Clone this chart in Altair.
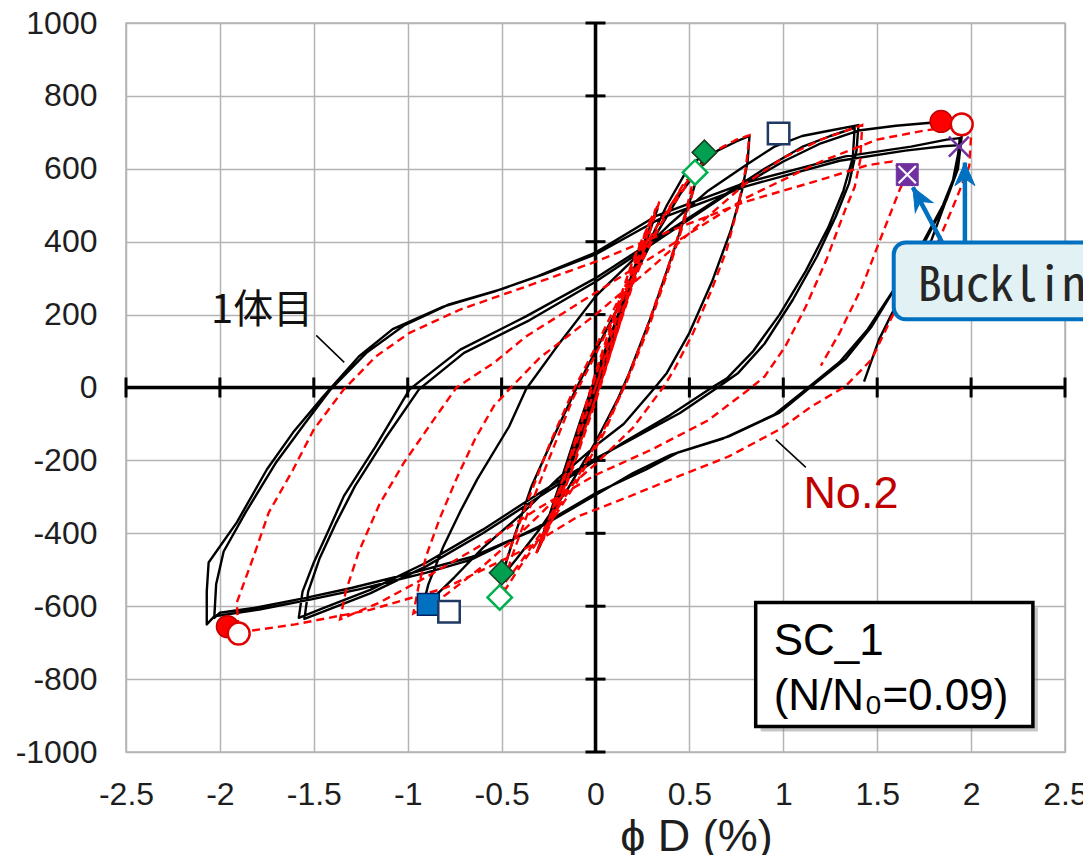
import altair as alt
import pandas as pd

# ---------------- data ----------------
X_TICKS = [-2.5, -2, -1.5, -1, -0.5, 0, 0.5, 1, 1.5, 2, 2.5]
Y_TICKS = [-1000, -800, -600, -400, -200, 0, 200, 400, 600, 800, 1000]

# specimen 1 (1体目), black solid, path in load order
BLACK_X = [0, 0.1, 0.2, 0.32, 0.25, 0.12, 0, -0.12, -0.22, -0.3,
           -0.22, -0.1, 0, 0.12, 0.22, 0.33, 0.25, 0.12, 0, -0.12, -0.22, -0.31,
           -0.2, -0.08, 0, 0.12, 0.25, 0.38, 0.48, 0.58,
           0.52, 0.42, 0.3, 0.18, 0.12, 0, -0.15, -0.3, -0.42, -0.5,
           -0.44, -0.34, -0.2, -0.1, 0, 0.15, 0.3, 0.45, 0.55, 0.65, 0.75, 0.82,
           0.81, 0.78, 0.72, 0.62, 0.5, 0.38, 0.3, 0.15, 0, -0.2, -0.4, -0.6, -0.75, -0.85, -0.92,
           -0.89, -0.81, -0.72, -0.63, -0.46, -0.37, -0.19, 0, 0.2, 0.4, 0.6, 0.8, 0.95, 1.1, 1.25, 1.4,
           1.39, 1.35, 1.28, 1.18, 1.05, 0.9, 0.76, 0.65, 0.45, 0.2, 0, -0.3, -0.6, -0.9, -1.2, -1.45, -1.58,
           -1.56, -1.5, -1.42, -1.34, -1.17, -0.99, -0.72, -0.37, 0, 0.3, 0.6, 0.9, 1.1, 1.25, 1.38,
           1.37, 1.32, 1.24, 1.12, 0.98, 0.84, 0.7, 0.62, 0.4, 0.15, 0, -0.3, -0.6, -0.9, -1.2, -1.45, -1.55,
           -1.53, -1.47, -1.38, -1.28, -1.12, -0.94, -0.7, -0.35, 0, 0.35, 0.7, 1.0, 1.2, 1.4, 1.6, 1.8, 1.9, 1.95,
           1.93, 1.87, 1.76, 1.6, 1.47, 1.33, 1.15, 0.98, 0.71, 0.44, 0.27, 0, -0.3, -0.66, -0.9, -1.26, -1.52, -1.79, -2.03, -2.07,
           -2.07, -2.06, -1.91, -1.75, -1.61, -1.45, -1.26, -1.08, -0.81, -0.54, -0.31, 0, 0.32, 0.8, 1.33, 1.68, 1.87, 1.94,
           1.92, 1.85, 1.74, 1.59, 1.45, 1.3, 1.12, 0.95, 0.68, 0.4, 0.2, 0, -0.3, -0.66, -0.95, -1.3, -1.55, -1.82, -2.0, -2.03,
           -2.02, -1.98, -1.86, -1.7, -1.55, -1.41, -1.22, -1.02, -0.78, -0.5, -0.28, 0, 0.35, 0.8, 1.3, 1.65, 1.85, 1.94,
           1.9, 1.79, 1.65, 1.51, 1.43]
BLACK_Y = [0, 160, 320, 480, 380, 180, 0, -180, -330, -440,
           -320, -140, 10, 190, 340, 490, 370, 170, -20, -200, -340, -450,
           -280, -90, 30, 200, 360, 500, 590, 645,
           540, 380, 200, 40, -30, -150, -280, -390, -470, -520,
           -420, -270, -110, 0, 100, 250, 400, 530, 600, 650, 675, 690,
           620, 540, 430, 290, 150, 40, -10, -100, -160, -250, -350, -440, -520, -570, -600,
           -540, -436, -340, -252, -107, -5, 123, 250, 350, 450, 540, 610, 660, 690, 705, 720,
           650, 560, 470, 360, 240, 120, 40, 0, -70, -140, -195, -290, -390, -480, -555, -605, -632,
           -560, -480, -390, -298, -161, -5, 104, 195, 300, 400, 500, 600, 660, 690, 712,
           630, 540, 440, 320, 200, 100, 25, 0, -75, -150, -200, -300, -400, -490, -565, -615, -635,
           -560, -470, -370, -270, -140, -5, 95, 185, 290, 410, 530, 620, 670, 705, 718, 727, 712, 690,
           600, 516, 406, 277, 167, 77, 3, -69, -134, -178, -225, -290, -381, -472, -508, -554, -582, -609, -628, -650,
           -560, -480, -370, -225, -123, -25, 85, 160, 222, 263, 305, 370, 470, 562, 634, 661, 680, 684,
           590, 500, 395, 270, 160, 70, -5, -75, -140, -185, -235, -295, -385, -465, -505, -550, -578, -605, -618, -632,
           -540, -450, -340, -205, -100, -5, 95, 170, 228, 270, 310, 365, 465, 552, 622, 650, 662, 665,
           560, 406, 277, 132, 16]

# specimen No.2, red dashed
RED_X = [0, 0.1, 0.2, 0.3, 0.22, 0.1, 0, -0.1, -0.2, -0.28,
         -0.2, -0.1, 0, 0.1, 0.2, 0.32, 0.24, 0.12, 0, -0.12, -0.22, -0.3,
         -0.22, -0.1, 0, 0.1, 0.22, 0.34, 0.26, 0.14, 0.02, -0.1, -0.2, -0.32,
         -0.22, -0.1, 0, 0.12, 0.25, 0.38, 0.47, 0.53,
         0.48, 0.38, 0.25, 0.15, 0.05, -0.1, -0.25, -0.4, -0.5,
         -0.45, -0.35, -0.22, -0.12, 0, 0.15, 0.3, 0.45, 0.55,
         0.5, 0.4, 0.28, 0.17, 0.05, -0.1, -0.25, -0.4, -0.52,
         -0.46, -0.36, -0.24, -0.12, 0, 0.15, 0.3, 0.45, 0.56, 0.66, 0.75, 0.82,
         0.8, 0.76, 0.7, 0.62, 0.52, 0.42, 0.36, 0.2, 0, -0.2, -0.4, -0.6, -0.8, -0.97,
         -0.94, -0.9, -0.83, -0.74, -0.64, -0.54, -0.45, -0.3, 0, 0.3, 0.6, 0.8, 1.0, 1.2, 1.42,
         1.41, 1.38, 1.33, 1.23, 1.12, 1.01, 0.9, 0.83, 0.6, 0.3, 0, -0.3, -0.6, -0.9, -1.15, -1.36,
         -1.33, -1.26, -1.15, -1.02, -0.85, -0.74, -0.54, -0.37, 0, 0.4, 0.8, 1.2, 1.5, 1.75, 1.97,
         2.0, 1.99, 1.92, 1.83, 1.68, 1.58, 1.47, 1.33, 1.15, 0.98, 0.71, 0.44, 0.18, -0.09, -0.4, -0.8, -1.2, -1.6, -1.9,
         -1.91, -1.82, -1.74, -1.61, -1.5, -1.34, -1.17, -0.99, -0.72, -0.37, 0, 0.4, 0.8, 1.2, 1.45, 1.58, 1.66,
         1.62, 1.51, 1.42, 1.3, 1.2]
RED_Y = [0, 170, 330, 470, 340, 140, -30, -190, -330, -420,
         -300, -130, 40, 200, 350, 490, 360, 160, -40, -220, -350, -440,
         -320, -140, 30, 190, 370, 510, 380, 190, 0, -180, -320, -460,
         -330, -150, 0, 180, 350, 480, 560, 590,
         480, 320, 130, 0, -120, -260, -380, -490, -570,
         -470, -330, -160, -30, 90, 250, 410, 530, 600,
         500, 340, 160, 20, -110, -250, -370, -480, -560,
         -450, -310, -150, -10, 110, 270, 420, 540, 610, 655, 680, 692,
         600, 500, 380, 270, 150, 50, 0, -110, -210, -300, -400, -490, -570, -620,
         -540, -460, -360, -250, -140, -50, 0, 80, 200, 330, 470, 560, 630, 680, 720,
         625, 550, 488, 351, 222, 112, 30, 0, -90, -170, -240, -330, -430, -520, -590, -636,
         -560, -450, -320, -206, -80, 0, 68, 140, 260, 390, 520, 620, 680, 705, 720,
         690, 607, 516, 406, 288, 195, 77, 3, -52, -115, -189, -244, -299, -353, -450, -550, -610, -650, -672,
         -590, -463, -343, -225, -115, -5, 85, 150, 214, 277, 345, 430, 510, 570, 610, 620, 584,
         543, 398, 277, 150, 60]

# markers
RED_FILLED_X, RED_FILLED_Y = [1.84, -1.96], [730, -656]
RED_OPEN_X, RED_OPEN_Y = [1.95, -1.9], [722, -675]
BLUE_FILLED_X, BLUE_FILLED_Y = [-0.89], [-595]
NAVY_OPEN_X, NAVY_OPEN_Y = [-0.78, 0.975], [-615, 697]
GREEN_FILLED_X, GREEN_FILLED_Y = [0.58, -0.5], [645, -508]
GREEN_OPEN_X, GREEN_OPEN_Y = [0.53, -0.51], [590, -576]
PURPLE_SQ_X, PURPLE_SQ_Y = [1.66], [584]
PURPLE_X_X, PURPLE_X_Y = [1.935], [661]

# annotations
LABEL_1 = "1体目"
LABEL_2 = "No.2"
BOX_LINES = ["SC_1", "(N/N₀=0.09)"]
BUCKLING = "Buckling"

# ---------------- helpers ----------------
xs = alt.Scale(domain=[-2.5, 2.5], nice=False, zero=False)
ys = alt.Scale(domain=[-1000, 1000], nice=False, zero=False)

FONT = "Liberation Sans, Arial, sans-serif"
AX_X = alt.Axis(values=X_TICKS, grid=True, gridColor="#b4b4b4", gridWidth=1.5,
                domain=False, ticks=False, tickSize=0, labelFontSize=32, labelFont=FONT,
                labelColor="#1e1e1e", labelPadding=27, labelFlush=False, labelOverlap=False,
                labelExpr="'' + datum.value", title="ϕ D (%)", titleFontSize=45,
                titleFont=FONT, titleFontWeight="normal", titleColor="#1e1e1e",
                titleX=570, titleY=98, titleBaseline="alphabetic", titleAlign="center",
                titleAnchor="start")
AX_Y = alt.Axis(values=Y_TICKS, grid=True, gridColor="#b4b4b4", gridWidth=1.5,
                domain=False, ticks=False, tickSize=0, labelFontSize=32, labelFont=FONT,
                labelColor="#1e1e1e", labelPadding=29, labelFlush=False, labelOverlap=False,
                labelExpr="'' + datum.value", title=None)


def X(f="x"):
    return alt.X(f"{f}:Q", scale=xs, axis=AX_X)


def Y(f="y"):
    return alt.Y(f"{f}:Q", scale=ys, axis=AX_Y)


def pts(xv, yv):
    return pd.DataFrame({"x": xv, "y": yv})


def path(xv, yv):
    return pd.DataFrame({"x": xv, "y": yv, "i": list(range(len(xv)))})


layers = []

# zero axes
layers.append(alt.Chart(pd.DataFrame({"x": [-2.5], "x2": [2.5], "y": [0]}))
              .mark_rule(color="black", strokeWidth=3.5)
              .encode(x=X(), x2="x2:Q", y=Y()))
layers.append(alt.Chart(pd.DataFrame({"x": [0], "y": [-1000], "y2": [1000]}))
              .mark_rule(color="black", strokeWidth=3.5)
              .encode(x=X(), y=Y(), y2="y2:Q"))
layers.append(alt.Chart(pd.DataFrame({"x": X_TICKS, "y": [0] * len(X_TICKS), "y2": [0] * len(X_TICKS)}))
              .mark_rule(color="black", strokeWidth=3, yOffset=-10, y2Offset=10)
              .encode(x=X(), y=Y(), y2="y2:Q"))
layers.append(alt.Chart(pd.DataFrame({"y": Y_TICKS, "x": [0] * len(Y_TICKS), "x2": [0] * len(Y_TICKS)}))
              .mark_rule(color="black", strokeWidth=3, xOffset=-10, x2Offset=10)
              .encode(x=X(), x2="x2:Q", y=Y()))

# curves
layers.append(alt.Chart(path(BLACK_X, BLACK_Y))
              .mark_line(color="black", strokeWidth=2.4, strokeJoin="round")
              .encode(x=X(), y=Y(), order="i:Q"))
layers.append(alt.Chart(path(RED_X, RED_Y))
              .mark_line(color="#ff0000", strokeWidth=2.4, strokeDash=[8, 5])
              .encode(x=X(), y=Y(), order="i:Q"))

# markers
def marker(xv, yv, **kw):
    return alt.Chart(pts(xv, yv)).mark_point(opacity=1, fillOpacity=1, **kw).encode(x=X(), y=Y())

XP = "M-1,-1L1,1M1,-1L-1,1"
layers.append(marker(RED_FILLED_X, RED_FILLED_Y, shape="circle", size=480, fill="#ff0000", stroke="#c00000", strokeWidth=1.5))
layers.append(marker(RED_OPEN_X, RED_OPEN_Y, shape="circle", size=480, fill="white", stroke="#e00000", strokeWidth=2.5))
layers.append(marker(BLUE_FILLED_X, BLUE_FILLED_Y, shape="square", size=480, fill="#0070c0", stroke="#002060", strokeWidth=1.5))
layers.append(marker(NAVY_OPEN_X, NAVY_OPEN_Y, shape="square", size=460, fill="white", stroke="#1f3864", strokeWidth=2.5))
layers.append(marker(GREEN_FILLED_X, GREEN_FILLED_Y, shape="diamond", size=600, fill="#00a050", stroke="#1a3d20", strokeWidth=1.5))
layers.append(marker(GREEN_OPEN_X, GREEN_OPEN_Y, shape="diamond", size=600, fill="white", stroke="#00b050", strokeWidth=2.5))
layers.append(marker(PURPLE_SQ_X, PURPLE_SQ_Y, shape="square", size=480, fill="#7030a0", stroke="#7030a0", strokeWidth=1))
layers.append(marker(PURPLE_SQ_X, PURPLE_SQ_Y, shape=XP, size=300, stroke="white", strokeWidth=2.2))
layers.append(marker(PURPLE_X_X, PURPLE_X_Y, shape=XP, size=400, stroke="#7030a0", strokeWidth=2.5))

# leader lines
layers.append(alt.Chart(pd.DataFrame({"x": [-1.487, 0.96], "x2": [-1.338, 1.12], "y": [143, -143], "y2": [69, -219]}))
              .mark_rule(color="black", strokeWidth=1.5)
              .encode(x=X(), x2="x2:Q", y=Y(), y2="y2:Q"))
layers.append(alt.Chart(pd.DataFrame({"x": [-1.775], "y": [211], "t": [LABEL_1]}))
              .mark_text(font="Noto Sans CJK JP", fontSize=40, align="center", baseline="middle", color="#111")
              .encode(x=X(), y=Y(), text="t:N"))
layers.append(alt.Chart(pd.DataFrame({"x": [1.36], "y": [-292], "t": [LABEL_2]}))
              .mark_text(font=FONT, fontSize=45, align="center", baseline="middle", color="#c00000")
              .encode(x=X(), y=Y(), text="t:N"))

# SC_1 box with shadow
box = pd.DataFrame({"x": [0.853], "x2": [2.329], "y": [-590], "y2": [-930]})
layers.append(alt.Chart(box).mark_rect(fill="#808080", opacity=0.45, xOffset=5, x2Offset=5, yOffset=5, y2Offset=5)
              .encode(x=X(), x2="x2:Q", y=Y(), y2="y2:Q"))
layers.append(alt.Chart(box).mark_rect(fill="white", stroke="black", strokeWidth=3.5)
              .encode(x=X(), x2="x2:Q", y=Y(), y2="y2:Q"))
layers.append(alt.Chart(pd.DataFrame({"x": [0.949, 0.949], "y": [-735, -885], "t": BOX_LINES}))
              .mark_text(font=FONT, fontSize=44, align="left", baseline="alphabetic", color="black")
              .encode(x=X(), y=Y(), text="t:N"))

# Buckling callout
layers.append(alt.Chart(pd.DataFrame({"x": [1.588], "x2": [2.75], "y": [398], "y2": [187]}))
              .mark_rect(fill="#e2f1f3", stroke="#0070c0", strokeWidth=4, cornerRadius=12, clip=False)
              .encode(x=X(), x2="x2:Q", y=Y(), y2="y2:Q"))
layers.append(alt.Chart(pd.DataFrame({"x": [1.716], "y": [236], "t": [BUCKLING]}))
              .mark_text(font="Noto Sans Mono CJK JP, DejaVu Sans Mono, monospace", fontSize=48,
                         align="left", baseline="alphabetic", color="#262626")
              .encode(x=X(), y=Y(), text="t:N"))
layers.append(alt.Chart(pd.DataFrame({"x": [1.844, 1.967], "x2": [1.69, 1.967], "y": [400, 400], "y2": [549, 617]}))
              .mark_rule(color="#0070c0", strokeWidth=4.5)
              .encode(x=X(), x2="x2:Q", y=Y(), y2="y2:Q"))
AH = "M0,0L1,2.3L0,1.6L-1,2.3Z"
layers.append(alt.Chart(pd.DataFrame({"x": [1.69, 1.967], "y": [549, 617], "a": [331, 0]}))
              .mark_point(shape=AH, size=400, fill="#0070c0", stroke="#0070c0", strokeWidth=1, opacity=1, fillOpacity=1)
              .encode(x=X(), y=Y(), angle=alt.Angle("a:Q", scale=None)))

chart = alt.layer(*layers).properties(
    width=939, height=729,
    autosize=alt.AutoSizeParams(type="none"),
    padding={"left": 118, "top": 15, "right": 18, "bottom": 103},
).configure_view(stroke="#b4b4b4", strokeWidth=1.5)

chart.save("out.html", embed_options={"renderer": "svg", "actions": False})
